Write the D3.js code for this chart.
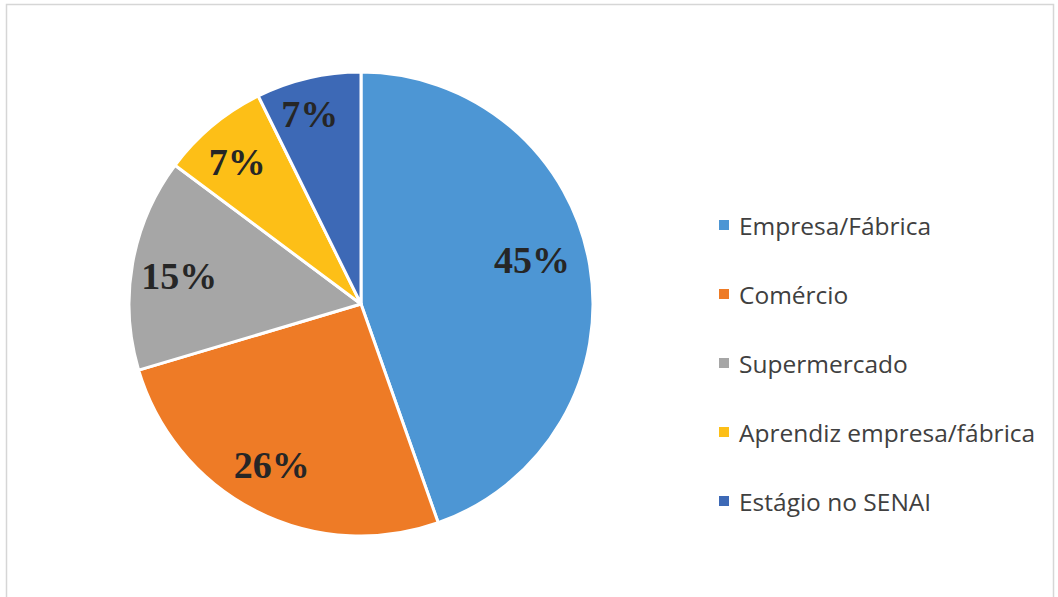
<!DOCTYPE html>
<html><head><meta charset="utf-8">
<script src="https://cdn.jsdelivr.net/npm/d3@7"></script>
<style>body{margin:0;background:#fff}svg{display:block}</style>
</head><body>
<svg id="c" width="1058" height="597"></svg>
<script>
const categories = ["Empresa/Fábrica","Comércio","Supermercado","Aprendiz empresa/fábrica","Estágio no SENAI"];
const values = [44.6, 25.8, 14.8, 7.5, 7.3];
const labels = ["45%","26%","15%","7%","7%"];
const colors = ["#4d96d4","#ee7b26","#a6a6a6","#fdbf17","#3d69b6"];

const svg = d3.select("#c");
svg.append("rect").attr("x",6.5).attr("y",4.5).attr("width",1047).attr("height",600)
  .attr("fill","#fff").attr("stroke","#d6d6d6").attr("stroke-width",1.5);

const cx = 361, cy = 304, r = 232;
const pie = d3.pie().sort(null).value(d=>d)(values);
const arc = d3.arc().innerRadius(0).outerRadius(r);
const labArc = d3.arc().innerRadius(r*0.8).outerRadius(r*0.8);
const g = svg.append("g").attr("transform",`translate(${cx},${cy})`);
g.selectAll("path").data(pie).join("path")
  .attr("d",arc).attr("fill",(d,i)=>colors[i])
  .attr("stroke","#fff").attr("stroke-width",3).attr("stroke-linejoin","round");
const nudge = [[-12,-13],[-5,-4],[1,4],[-5,1],[-9,-9]];
g.selectAll("text").data(pie).join("text")
  .attr("x",(d,i)=>labArc.centroid(d)[0]+nudge[i][0])
  .attr("y",(d,i)=>labArc.centroid(d)[1]+nudge[i][1])
  .attr("text-anchor","middle").attr("dominant-baseline","central")
  .attr("font-family","'Liberation Serif','Times New Roman',serif")
  .attr("font-weight","bold").attr("font-size",38).attr("fill","#262626")
  .text((d,i)=>labels[i]);

const ly = d3.scalePoint().domain(categories).range([225,501]);
const lg = svg.append("g");
categories.forEach((c,i)=>{
  lg.append("rect").attr("x",719).attr("y",ly(c)-5).attr("width",10).attr("height",10).attr("fill",colors[i]);
  lg.append("text").attr("x",739).attr("y",ly(c)).attr("dominant-baseline","central")
    .attr("font-family","'Open Sans', Lato, sans-serif").attr("font-size",24.5).attr("fill","#404040")
    .text(c);
});
</script>
</body></html>
